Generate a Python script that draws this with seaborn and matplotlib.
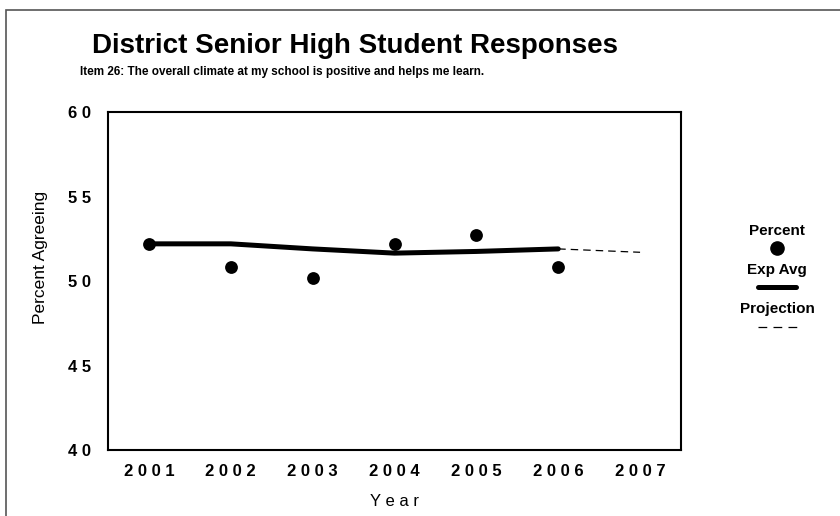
import matplotlib
matplotlib.use("Agg")
import matplotlib.pyplot as plt
import seaborn as sns
import pandas as pd
from matplotlib.lines import Line2D
from matplotlib.patches import Rectangle

years = [2001, 2002, 2003, 2004, 2005, 2006]
percent = [52.2, 50.85, 50.2, 52.2, 52.75, 50.85]
exp_avg = [52.2, 52.2, 51.9, 51.65, 51.75, 51.9]
proj_years = [2006, 2007]
projection = [51.9, 51.7]
all_years = [2001, 2002, 2003, 2004, 2005, 2006, 2007]
y_ticks = [40, 45, 50, 55, 60]

sns.set_theme(style="white")
plt.rcParams['font.family'] = ['Liberation Sans', 'DejaVu Sans']
for k in ["text.color", "axes.labelcolor", "xtick.color", "ytick.color"]:
    plt.rcParams[k] = "black"

fig = plt.figure(figsize=(8.4, 5.16), dpi=100)
ax = fig.add_axes([0.1286, 0.1279, 0.8107 - 0.1286, 0.7829 - 0.1279])

df = pd.DataFrame({"Year": years, "Percent": percent, "Exp": exp_avg})
dfp = pd.DataFrame({"Year": proj_years, "Proj": projection})

sns.lineplot(data=df, x="Year", y="Exp", ax=ax, color="black", lw=3.6,
             solid_capstyle="round", legend=False)
sns.lineplot(data=dfp, x="Year", y="Proj", ax=ax, color="black", lw=0.9,
             dashes=False, legend=False)
ax.lines[-1].set_dashes([6, 4])
sns.scatterplot(data=df, x="Year", y="Percent", ax=ax, color="black", s=85,
                edgecolor="black", linewidth=0, zorder=5, legend=False)

ax.set_xlim(2000.5, 2007.5)
ax.set_ylim(40, 60)
ax.set_xticks(all_years)
ax.set_xticklabels([" ".join(str(y)) for y in all_years], fontweight="bold", fontsize=12)
ax.set_yticks(y_ticks)
ax.set_yticklabels([" ".join(str(v)) for v in y_ticks], fontweight="bold", fontsize=12)
ax.tick_params(axis="x", length=0, pad=10)
ax.tick_params(axis="y", length=0, pad=12)
ax.set_xlabel("Y e a r", fontsize=12)
ax.set_ylabel("Percent Agreeing", fontsize=12.5)
ax.xaxis.set_label_coords(0.5, -0.13)
ax.yaxis.set_label_coords(-0.105, 0.571)
for s in ax.spines.values():
    s.set_color("black")
    s.set_linewidth(1.5)

# Titles
fig.text(92 / 840, 1 - 46 / 516, "District Senior High Student Responses",
         fontsize=20, fontweight="bold", ha="left", va="center")
fig.text(80 / 840, 1 - 72 / 516,
         "Item 26: The overall climate at my school is positive and helps me learn.",
         fontsize=8.5, fontweight="bold", ha="left", va="center")

# Legend
lx = 777 / 840
def fy(y):
    return 1 - y / 516
fs = 11
fig.text(lx, fy(231), "Percent", fontsize=fs, fontweight="bold", ha="center", va="center")
fig.add_artist(Line2D([lx], [fy(248)], marker="o", color="black", markersize=9.5,
                      transform=fig.transFigure, linestyle="none"))
fig.text(lx, fy(270), "Exp Avg", fontsize=fs, fontweight="bold", ha="center", va="center")
fig.add_artist(Line2D([lx - 19 / 840, lx + 19 / 840], [fy(287), fy(287)], color="black",
                      lw=3.6, solid_capstyle="round", transform=fig.transFigure))
fig.text(lx, fy(309), "Projection", fontsize=fs, fontweight="bold", ha="center", va="center")
dl = Line2D([lx - 19 / 840, lx + 20 / 840], [fy(327), fy(327)], color="black",
            lw=0.9, transform=fig.transFigure)
dl.set_dashes([7, 5])
fig.add_artist(dl)

# Outer frame
fig.add_artist(Rectangle((6 / 840, -0.05), 1.0, 1 - 10 / 516 + 0.05, fill=False,
                         edgecolor="#555555", lw=1.2, transform=fig.transFigure))

fig.savefig("out.png", dpi=100)
